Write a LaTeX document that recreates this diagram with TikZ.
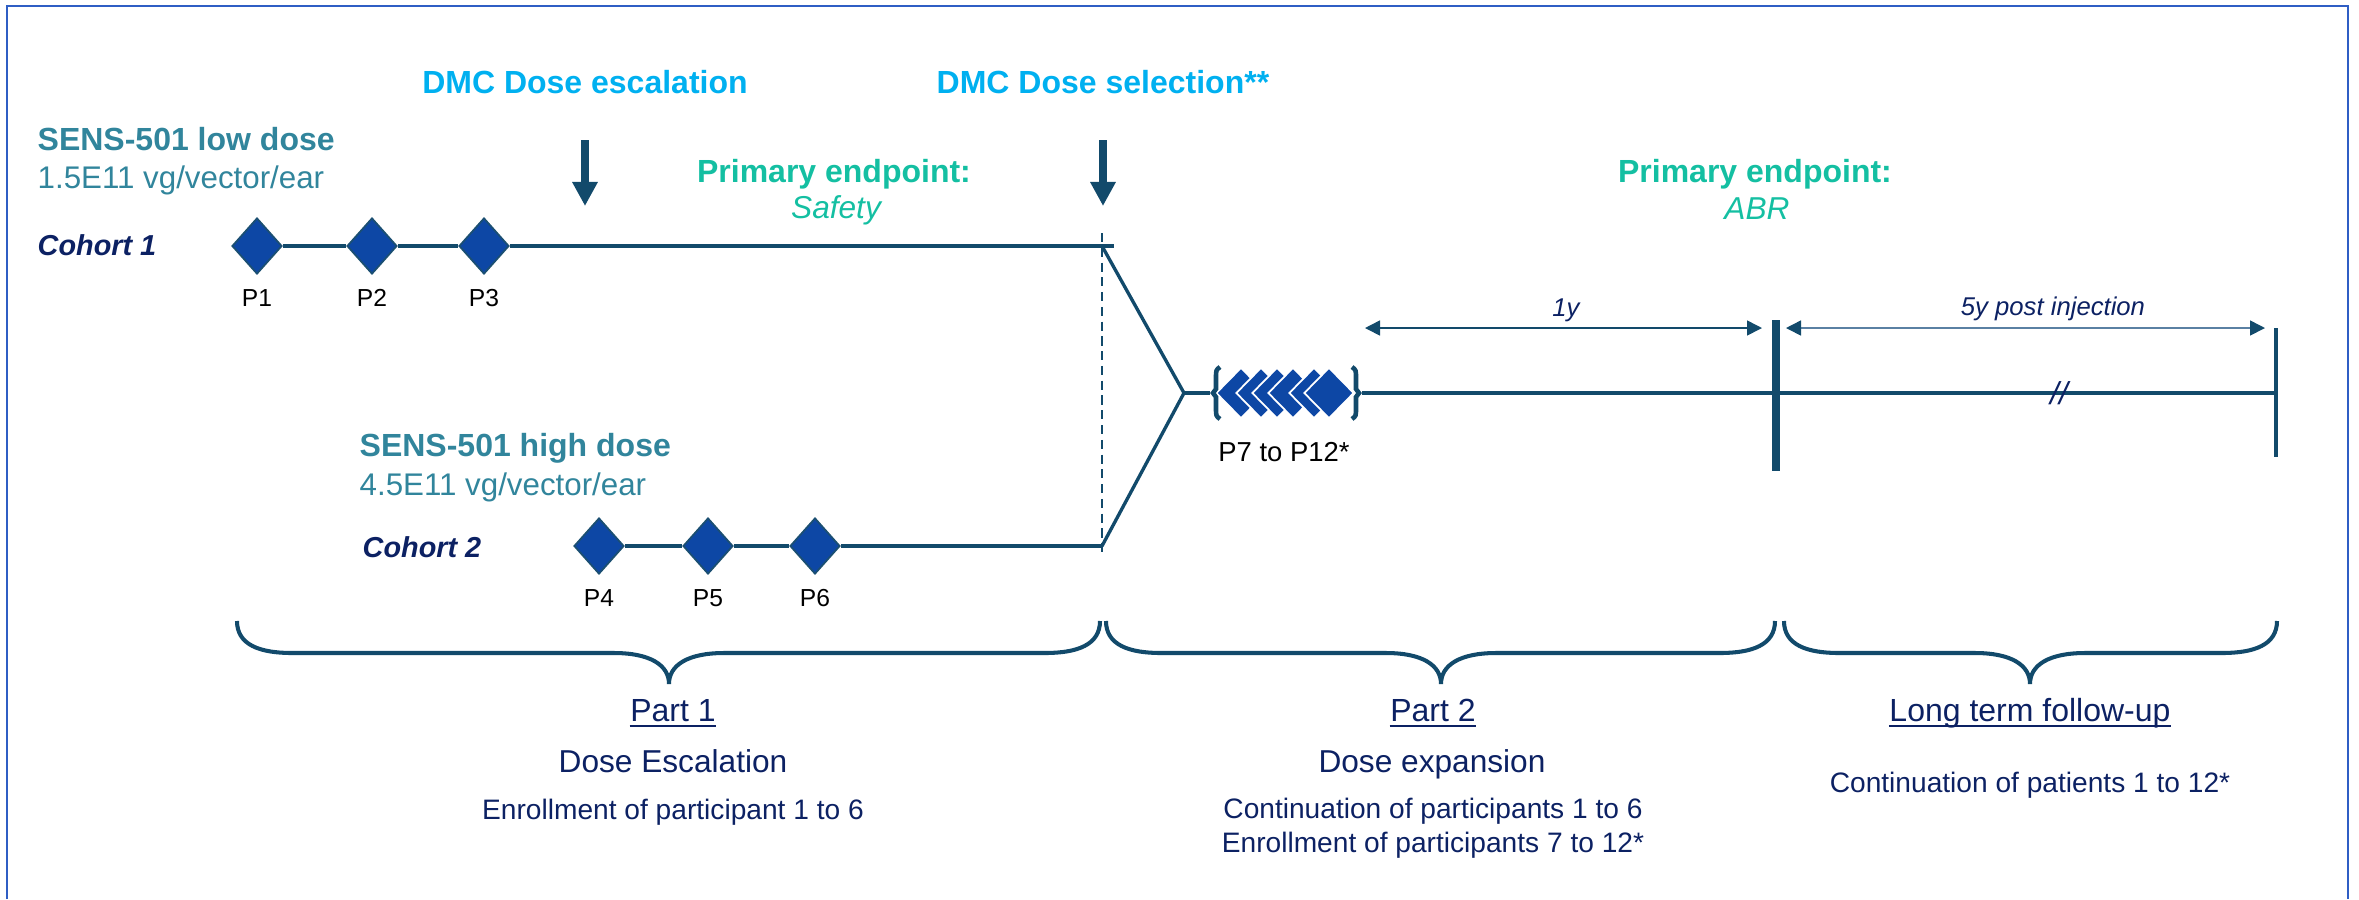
\documentclass[tikz,border=0pt]{standalone}
\usepackage{fontspec}
\setmainfont{Liberation Sans}
\usepackage{xcolor}
\usetikzlibrary{positioning,shapes.geometric,arrows.meta}

\definecolor{framblue}{HTML}{2F5EC4}
\definecolor{dmccyan}{HTML}{00B0F0}
\definecolor{doseteal}{HTML}{31859C}
\definecolor{endgreen}{HTML}{14BFA2}
\definecolor{navytext}{HTML}{0C2163}
\definecolor{lineteal}{HTML}{124A6B}
\definecolor{lightline}{HTML}{5A80A3}
\definecolor{diafill}{HTML}{0D47A5}
\definecolor{diaedge}{HTML}{1B4F72}

\tikzset{
  ptdia/.style={diamond, fill=diafill, draw=diaedge, line width=0.5pt, minimum width=5mm, minimum height=5.6mm, inner sep=0pt},
  newdia/.style={diamond, fill=diafill, draw=white, line width=0.5pt, minimum width=5mm, minimum height=5.1mm, inner sep=0pt},
  timeline/.style={lineteal, line width=1.2pt},
  branch/.style={lineteal, line width=0.95pt},
  partbrace/.style={lineteal, line width=1.15pt},
  groupmark/.style={lineteal, line width=1.3pt},
  dmcarrow/.style={lineteal, line width=2.3pt, -{Triangle[length=2.4mm, width=2.4mm]}},
  spanarrow/.style={line width=0.45pt, {Triangle[length=1.5mm, width=1.5mm, color=lineteal]}-{Triangle[length=1.5mm, width=1.5mm, color=lineteal]}},
  dmclab/.style={inner sep=0pt, anchor=base, text=dmccyan, font=\fontsize{9.1}{11}\selectfont\bfseries},
  dosehead/.style={inner sep=0pt, anchor=base west, text=doseteal, font=\fontsize{9.1}{11}\selectfont\bfseries},
  doseval/.style={inner sep=0pt, anchor=base west, text=doseteal, font=\fontsize{8.9}{11}\selectfont},
  cohort/.style={inner sep=0pt, anchor=base west, text=navytext, font=\fontsize{8.2}{10}\selectfont\bfseries\itshape},
  endhead/.style={inner sep=0pt, anchor=base, text=endgreen, font=\fontsize{9.1}{11}\selectfont\bfseries},
  endval/.style={inner sep=0pt, anchor=base, text=endgreen, font=\fontsize{9}{11}\selectfont\itshape},
  plab/.style={inner sep=0pt, below=1.4mm of #1, font=\fontsize{7}{8}\selectfont},
  spanlab/.style={inner sep=0pt, anchor=base, text=navytext, font=\fontsize{7.3}{9}\selectfont\itshape},
  parthead/.style={inner sep=0pt, anchor=base, text=navytext, font=\fontsize{9.1}{11}\selectfont},
  partsub/.style={inner sep=0pt, anchor=base, text=navytext, font=\fontsize{9}{11}\selectfont},
  partnote/.style={inner sep=0pt, anchor=base, text=navytext, font=\fontsize{8}{10}\selectfont},
  partline/.style={navytext, line width=0.55pt}
}

\begin{document}
\begin{tikzpicture}[x=0.01cm, y=-0.01cm]
  \useasboundingbox (0,0) rectangle (2359,899);

  % Draw frame
  \draw[framblue, line width=0.5pt] (7,899) -- (7,6) -- (2348,6) -- (2348,899);

  % Dose and cohort labels
  \node[dosehead] (lowdose) at (37,150) {SENS-501 low dose};
  \node[doseval] (lowval) at (37,188) {1.5E11 vg/vector/ear};
  \node[cohort] (coh1) at (37,255) {Cohort 1};
  \node[dosehead] (highdose) at (359,456) {SENS-501 high dose};
  \node[doseval] (highval) at (359,495) {4.5E11 vg/vector/ear};
  \node[cohort] (coh2) at (362,557) {Cohort 2};

  % DMC decisions
  \node[dmclab] (dmcesc) at (585,93) {DMC Dose escalation};
  \node[dmclab] (dmcsel) at (1103,93) {DMC Dose selection**};
  \coordinate (escstart) at (585,140);
  \coordinate (escend) at (585,206);
  \coordinate (selstart) at (1103,140);
  \coordinate (selend) at (1103,206);
  \draw[dmcarrow] (escstart) -- (escend);
  \draw[dmcarrow] (selstart) -- (selend);

  % Primary endpoints
  \node[endhead] (pesafe) at (834,182) {Primary endpoint:};
  \node[endval] (safety) at (836,218) {Safety};
  \node[endhead] (peabr) at (1755,182) {Primary endpoint:};
  \node[endval] (abr) at (1757,219) {ABR};

  % Dashed split line
  \coordinate (splittop) at (1102,233);
  \coordinate (splitbot) at (1102,557);
  \draw[lineteal, line width=0.4pt, dash pattern=on 2.6pt off 1.6pt] (splittop) -- (splitbot);

  % Timeline points
  \coordinate (c1end) at (1114,246);
  \coordinate (c1fork) at (1102,246);
  \coordinate (c2end) at (1102,546);
  \coordinate (join) at (1184,393);
  \coordinate (brleft) at (1210,393);
  \coordinate (brright) at (1362,393);
  \coordinate (oneyear) at (1776,393);
  \coordinate (fiveyear) at (2276,393);

  % Cohort 1 and 2 participants
  \node[ptdia] (p1) at (257,246) {};
  \node[ptdia] (p2) at (372,246) {};
  \node[ptdia] (p3) at (484,246) {};
  \node[ptdia] (p4) at (599,546) {};
  \node[ptdia] (p5) at (708,546) {};
  \node[ptdia] (p6) at (815,546) {};
  \node[plab=p1] (l1) {P1};
  \node[plab=p2] (l2) {P2};
  \node[plab=p3] (l3) {P3};
  \node[plab=p4] (l4) {P4};
  \node[plab=p5] (l5) {P5};
  \node[plab=p6] (l6) {P6};

  \draw[timeline] (p1) -- (p2) -- (p3) -- (c1end);
  \draw[timeline] (p4) -- (p5) -- (p6) -- (c2end);

  % Fork into part 2
  \draw[branch] (c1fork) -- (join) -- (c2end);
  \draw[branch] (join) -- (brleft);

  % Part 2 participants
  \node[newdia] (p7) at (1241,393) {};
  \node[newdia] (p8) at (1261,393) {};
  \node[newdia] (p9) at (1277,393) {};
  \node[newdia] (p10) at (1293,393) {};
  \node[newdia] (p11) at (1314,393) {};
  \node[newdia] (p12) at (1329,393) {};
  \node[inner sep=0pt, anchor=base, font=\fontsize{7.8}{9}\selectfont] (l7) at (1284,461) {P7 to P12*};
  \draw[groupmark] (1220,367) .. controls (1216,370) .. (1216,378) -- (1216,389) -- (1213,393) -- (1216,397) -- (1216,408) .. controls (1216,416) .. (1220,419);
  \draw[groupmark] (1352,367) .. controls (1356,370) .. (1356,378) -- (1356,389) -- (1359,393) -- (1356,397) -- (1356,408) .. controls (1356,416) .. (1352,419);

  % Follow-up timeline
  \draw[timeline] (brright) -- (oneyear) -- (fiveyear);
  \draw[lineteal, line width=2.3pt] (1776,320) -- (1776,471);
  \draw[lineteal, line width=1.1pt] (2276,328) -- (2276,457);
  \node[inner sep=0pt, text=navytext, font=\fontsize{9}{11}\selectfont\itshape] (cut) at (2059,393) {//};

  % Durations
  \coordinate (ya) at (1365,328);
  \coordinate (yb) at (1762,328);
  \coordinate (fa) at (1786,328);
  \coordinate (fb) at (2265,328);
  \draw[spanarrow, lineteal] (ya) -- (yb);
  \draw[spanarrow, lightline] (fa) -- (fb);
  \node[spanlab] (oney) at (1566,316) {1y};
  \node[spanlab] (fivey) at (2053,315) {5y post injection};

  % Draw braces
  \draw[partbrace] (237,621) .. controls (237,645) and (260,653) .. (292,653) -- (614,653) .. controls (650,653) and (669,665) .. (669,684) .. controls (669,665) and (688,653) .. (724,653) -- (1045,653) .. controls (1077,653) and (1100,645) .. (1100,621);
  \draw[partbrace] (1106,621) .. controls (1106,645) and (1129,653) .. (1161,653) -- (1386,653) .. controls (1422,653) and (1441,665) .. (1441,684) .. controls (1441,665) and (1460,653) .. (1496,653) -- (1720,653) .. controls (1752,653) and (1775,645) .. (1775,621);
  \draw[partbrace] (1784,621) .. controls (1784,645) and (1807,653) .. (1839,653) -- (1975,653) .. controls (2011,653) and (2030,665) .. (2030,684) .. controls (2030,665) and (2049,653) .. (2085,653) -- (2222,653) .. controls (2254,653) and (2277,645) .. (2277,621);

  % Part descriptions
  \node[parthead] (part1) at (673,721) {Part 1};
  \node[partsub] (esc) at (673,772) {Dose Escalation};
  \node[partnote] (enr1) at (673,819) {Enrollment of participant 1 to 6};
  \node[parthead] (part2) at (1433,721) {Part 2};
  \node[partsub] (expn) at (1432,772) {Dose expansion};
  \node[partnote] (cont2) at (1433,818) {Continuation of participants 1 to 6};
  \node[partnote] (enr2) at (1433,852) {Enrollment of participants 7 to 12*};
  \node[parthead] (ltfu) at (2030,721) {Long term follow-up};
  \node[partnote] (cont3) at (2030,792) {Continuation of patients 1 to 12*};
  \draw[partline] ([yshift=-1.4pt]part1.base west) -- ([yshift=-1.4pt]part1.base east);
  \draw[partline] ([yshift=-1.4pt]part2.base west) -- ([yshift=-1.4pt]part2.base east);
  \draw[partline] ([yshift=-1.4pt]ltfu.base west) -- ([yshift=-1.4pt]ltfu.base east);
\end{tikzpicture}
\end{document}
